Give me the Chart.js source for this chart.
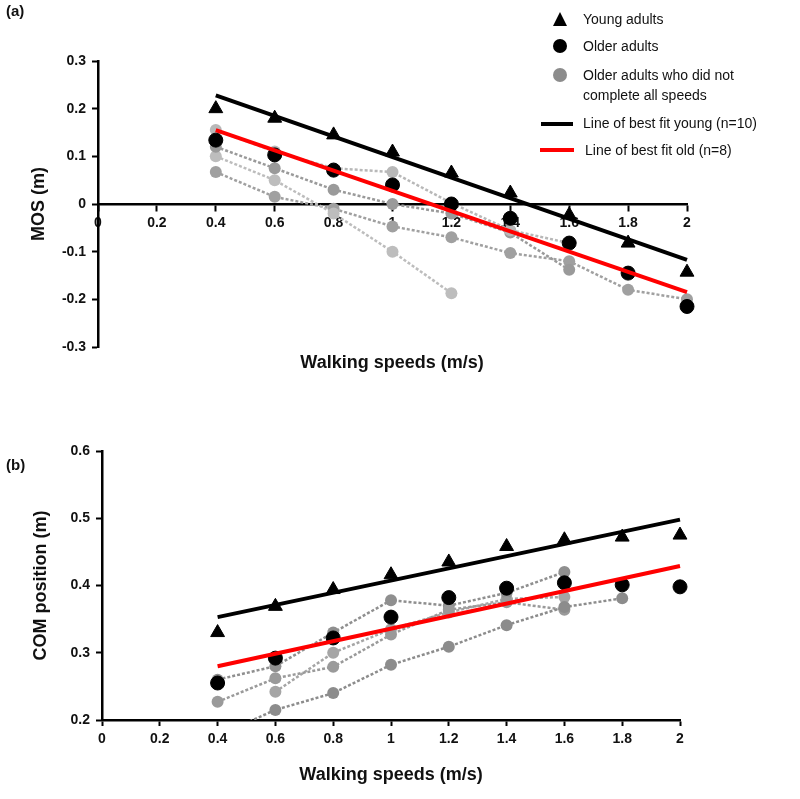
<!DOCTYPE html>
<html>
<head>
<meta charset="utf-8">
<script src="https://cdn.jsdelivr.net/npm/chart.js@4"></script>
<style>
  body { margin: 0; background: #fff; font-family: "Liberation Sans", Arial, sans-serif; }
  #wrap { position: relative; width: 800px; height: 799px; }
  canvas { position: absolute; left: 0; }
  .lbl { position: absolute; font-weight: bold; color: #111; }
  .leg { position: absolute; font-size: 14px; color: #111; line-height: 20px; white-space: nowrap; }
  .ico { position: absolute; }
</style>
</head>
<body>
<div id="wrap">
  <canvas id="chartA" width="800" height="400" style="top:0"></canvas>
  <canvas id="chartB" width="800" height="399" style="top:400px"></canvas>

  <div class="lbl" style="left:6px;top:2px;font-size:15px">(a)</div>
  <div class="lbl" style="left:6px;top:456px;font-size:15px">(b)</div>
  <div class="lbl" style="left:0;width:784px;top:352px;font-size:18px;text-align:center">Walking speeds (m/s)</div>

  <!-- legende -->
  <div class="ico" style="left:553px;top:12px;width:0;height:0;border-left:7px solid transparent;border-right:7px solid transparent;border-bottom:14px solid #000"></div>
  <div class="leg" style="left:583px;top:9px">Young adults</div>
  <div class="ico" style="left:553px;top:39px;width:14px;height:14px;border-radius:50%;background:#000"></div>
  <div class="leg" style="left:583px;top:36px">Older adults</div>
  <div class="ico" style="left:553px;top:68px;width:14px;height:14px;border-radius:50%;background:#8c8c8c"></div>
  <div class="leg" style="left:583px;top:65px">Older adults who did not<br>complete all speeds</div>
  <div class="ico" style="left:541px;top:122px;width:32px;height:4px;background:#000"></div>
  <div class="leg" style="left:583px;top:113px">Line of best fit young (n=10)</div>
  <div class="ico" style="left:540px;top:148px;width:34px;height:4px;background:#f00"></div>
  <div class="leg" style="left:585px;top:140px">Line of best fit old (n=8)</div>
</div>

<script>
// vitesses de marche (m/s)
const speeds = [0.4, 0.6, 0.8, 1.0, 1.2, 1.4, 1.6, 1.8, 2.0];
const fitSpeeds = [0.4, 2.0];

// (a) MOS
const youngMos = [0.2, 0.18, 0.145, 0.109, 0.065, 0.023, -0.023, -0.082, -0.143];
const olderMos = [0.134, 0.103, 0.071, 0.04, 0.0, -0.03, -0.082, -0.145, -0.215];
const youngFitMos = [0.228, -0.117];
const oldFitMos = [0.155, -0.185];
// adultes âgés qui n'ont pas fait toutes les vitesses
const partialMos = [
  [0.155, 0.11, 0.075, 0.067, 0.002, -0.055, -0.082],
  [0.12, 0.075, 0.03, 0.0, -0.02, -0.06, -0.138],
  [0.1, 0.05, -0.02, -0.1, -0.187],
  [0.067, 0.015, -0.01, -0.047, -0.07, -0.103, -0.12, -0.18, -0.2]
];
const partialMosColors = ['#b8b8b8', '#9a9a9a', '#bdbdbd', '#a0a0a0'];

// (b) position COM
const youngCom = [0.33, 0.369, 0.394, 0.416, 0.435, 0.458, 0.468, 0.472, 0.475];
const olderCom = [0.255, 0.292, 0.322, 0.353, 0.382, 0.396, 0.404, 0.401, 0.398];
const youngFitCom = [0.353, 0.498];
const oldFitCom = [0.28, 0.429];
const partialCom = [
  [0.177, 0.215, 0.24, 0.282, 0.309, 0.341, 0.368, 0.381],
  [0.227, 0.262, 0.279, 0.327, 0.364, 0.375, 0.364],
  [0.26, 0.28, 0.33, 0.378, 0.37, 0.389, 0.42],
  [null, 0.242, 0.3, 0.335, 0.36, 0.38, 0.383]
];
const partialComColors = ['#8c8c8c', '#9a9a9a', '#8f8f8f', '#a5a5a5'];

const xTicks = [0, 0.2, 0.4, 0.6, 0.8, 1, 1.2, 1.4, 1.6, 1.8, 2];

const pts = (xs, ys) => ys.map((y, i) => ({ x: xs[i], y: y }));

function buildDatasets(young, older, yFit, oFit, partial, pColors) {
  // le premier dataset est dessiné au-dessus
  const ds = [
    { data: pts(fitSpeeds, oFit), showLine: true, borderColor: '#ff0000', borderWidth: 4, pointRadius: 0, clip: false },
    { data: pts(fitSpeeds, yFit), showLine: true, borderColor: '#000', borderWidth: 4, pointRadius: 0, clip: false },
    { data: pts(speeds, young), showLine: false, pointStyle: 'triangle', pointRadius: 8,
      backgroundColor: '#000', borderColor: '#000', clip: false },
    { data: pts(speeds, older), showLine: false, pointStyle: 'circle', pointRadius: 7,
      backgroundColor: '#000', borderColor: '#000', clip: false }
  ];
  partial.forEach((vals, i) => {
    ds.push({
      data: pts(speeds, vals).filter(p => p.y !== null),
      showLine: true,
      borderColor: pColors[i], backgroundColor: pColors[i],
      borderWidth: 2.5, borderDash: [3, 2], pointRadius: 6, pointBorderWidth: 0,
      clip: { left: 10, top: 10, right: 10, bottom: 0 }
    });
  });
  return ds;
}

const tickFont = { family: '"Liberation Sans", Arial, sans-serif', size: 14, weight: 'bold' };
const titleFont = { family: '"Liberation Sans", Arial, sans-serif', size: 18, weight: 'bold' };

function baseX(extra) {
  return Object.assign({
    type: 'linear', min: 0, max: 2,
    afterBuildTicks: s => { s.ticks = xTicks.map(v => ({ value: v })); },
    grid: { drawOnChartArea: false, tickLength: 6, tickWidth: 2, tickColor: '#000' },
    border: { color: '#000', width: 2.5 },
    ticks: { color: '#111', font: tickFont, padding: 5, maxRotation: 0,
      callback: v => String(Math.round(v * 10) / 10) }
  }, extra);
}

const commonOpts = {
  responsive: false,
  animation: false,
  plugins: { legend: { display: false }, tooltip: { enabled: false } },
  elements: { line: { tension: 0, fill: false } }
};

new Chart(document.getElementById('chartA'), {
  type: 'scatter',
  data: { datasets: buildDatasets(youngMos, olderMos, youngFitMos, oldFitMos, partialMos, partialMosColors) },
  options: Object.assign({}, commonOpts, {
    layout: { padding: { left: 0, top: 61, right: 113, bottom: 53 } },
    scales: {
      x: baseX({ position: { y: 0 } }),
      y: {
        type: 'linear', min: -0.3, max: 0.3,
        afterFit: s => { s.width = 98; },
        ticks: { stepSize: 0.1, color: '#111', font: tickFont, padding: 6,
          callback: v => String(Math.round(v * 10) / 10) },
        grid: { drawOnChartArea: false, tickLength: 6, tickWidth: 2, tickColor: '#000' },
        border: { color: '#000', width: 2.5 },
        title: { display: true, text: 'MOS (m)', color: '#111', font: titleFont, padding: { top: 28 } }
      }
    }
  })
});

new Chart(document.getElementById('chartB'), {
  type: 'scatter',
  data: { datasets: buildDatasets(youngCom, olderCom, youngFitCom, oldFitCom, partialCom, partialComColors) },
  options: Object.assign({}, commonOpts, {
    layout: { padding: { left: 0, top: 51, right: 120, bottom: 0 } },
    scales: {
      x: baseX({
        position: 'bottom',
        afterFit: s => { s.height = 79; },
        title: { display: true, text: 'Walking speeds (m/s)', color: '#111', font: titleFont, padding: { bottom: 13 } }
      }),
      y: {
        type: 'linear', min: 0.2, max: 0.6,
        afterFit: s => { s.width = 102; },
        ticks: { stepSize: 0.1, color: '#111', font: tickFont, padding: 6,
          callback: v => String(Math.round(v * 10) / 10) },
        grid: { drawOnChartArea: false, tickLength: 6, tickWidth: 2, tickColor: '#000' },
        border: { color: '#000', width: 2.5 },
        title: { display: true, text: 'COM position (m)', color: '#111', font: titleFont, padding: { top: 30 } }
      }
    }
  })
});
</script>
</body>
</html>
